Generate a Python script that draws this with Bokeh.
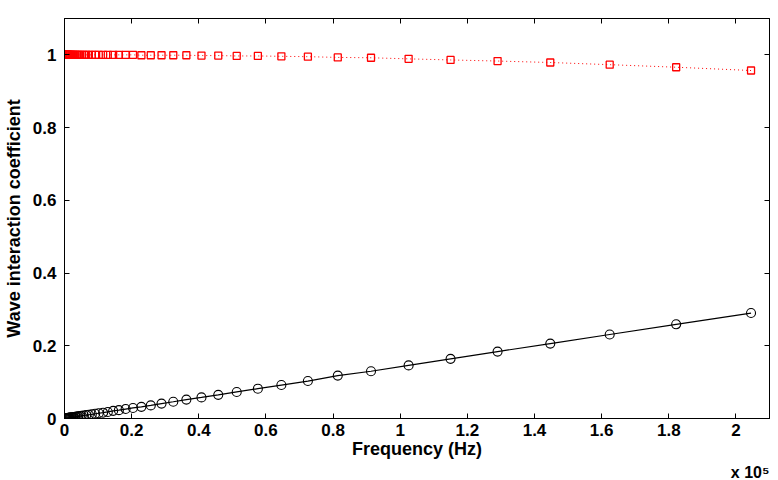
from bokeh.plotting import figure
from bokeh.models import Range1d, FixedTicker, LinearAxis, Title, ColumnDataSource
from bokeh.embed import file_html
from bokeh.resources import INLINE

# ---------------- data ----------------
freq_hz = [204500, 182200, 162400, 144700, 129000, 115000, 102500, 91300, 81400, 72500,
           64600, 57600, 51300, 45800, 40800, 36300, 32400, 28900, 25700, 22900,
           20400, 18200, 16200, 14500, 12900, 11500, 10200, 9130, 8140, 7250,
           6460, 5760, 5130, 4580, 4080, 3630, 3240, 2890, 2570, 2290,
           2040, 1820, 1620, 1450, 1290, 1150, 1020, 913, 814, 725,
           646, 576, 513, 458, 408, 363, 324, 289, 257, 229, 204]

coef_black = [0.290, 0.259, 0.231, 0.206, 0.184, 0.164, 0.146, 0.130, 0.118, 0.103,
              0.092, 0.082, 0.073, 0.065, 0.058, 0.052, 0.046, 0.041, 0.036, 0.032,
              0.029, 0.026, 0.023, 0.021, 0.018, 0.016, 0.0145, 0.013, 0.0115, 0.0103,
              0.0092, 0.0082, 0.0073, 0.0065, 0.0058, 0.0051, 0.0046, 0.0041, 0.0036, 0.0032,
              0.0029, 0.0026, 0.0023, 0.0021, 0.0018, 0.0016, 0.0014, 0.0013, 0.0012, 0.0010,
              0.0009, 0.0008, 0.0007, 0.0006, 0.0006, 0.0005, 0.0005, 0.0004, 0.0004, 0.0003, 0.0003]

coef_red = [0.957, 0.966, 0.973, 0.979, 0.983, 0.986, 0.989, 0.992, 0.993, 0.995,
            0.996, 0.997, 0.997, 0.998, 0.998, 0.999, 0.999, 0.999, 0.999, 0.999,
            1.0, 1.0, 1.0, 1.0, 1.0, 1.0, 1.0, 1.0, 1.0, 1.0,
            1.0, 1.0, 1.0, 1.0, 1.0, 1.0, 1.0, 1.0, 1.0, 1.0,
            1.0, 1.0, 1.0, 1.0, 1.0, 1.0, 1.0, 1.0, 1.0, 1.0,
            1.0, 1.0, 1.0, 1.0, 1.0, 1.0, 1.0, 1.0, 1.0, 1.0, 1.0]

x_ticks = [0, 20000, 40000, 60000, 80000, 100000, 120000, 140000, 160000, 180000, 200000]
x_tick_labels = ["0", "0.2", "0.4", "0.6", "0.8", "1", "1.2", "1.4", "1.6", "1.8", "2"]
y_ticks = [0, 0.2, 0.4, 0.6, 0.8, 1.0]
y_tick_labels = ["0", "0.2", "0.4", "0.6", "0.8", "1"]
x_multiplier = "x 10\u2075"

FONT = "Liberation Sans"

src = ColumnDataSource(dict(f=freq_hz, b=coef_black, r=coef_red))

p = figure(width=778, height=480, output_backend="svg", toolbar_location=None,
           x_range=Range1d(0, 210000), y_range=Range1d(0, 1.1),
           min_border_left=64, min_border_right=9, min_border_top=18, min_border_bottom=61)
p.grid.visible = False
p.outline_line_color = "black"
p.outline_line_width = 1
p.background_fill_color = "white"
p.border_fill_color = "white"

p.line("f", "r", source=src, line_color="red", line_width=1, line_dash="1 3")
p.scatter("f", "r", source=src, marker="square", size=7, line_color="red",
          fill_color=None, line_width=1.3)
p.line("f", "b", source=src, line_color="black", line_width=1.2)
p.scatter("f", "b", source=src, marker="circle", size=9, line_color="black",
          fill_color=None, line_width=1.1)

xt = FixedTicker(ticks=x_ticks)
yt = FixedTicker(ticks=y_ticks)


def style(ax, ticker, labels, ticks, show):
    ax.ticker = ticker
    ax.minor_tick_line_color = None
    ax.major_tick_in = 5
    ax.major_tick_out = 0
    ax.axis_line_color = "black"
    ax.axis_line_width = 1
    ax.major_tick_line_width = 1
    if show:
        ax.major_label_overrides = {t: l for t, l in zip(ticks, labels)}
        ax.major_label_text_font = FONT
        ax.major_label_text_font_style = "bold"
        ax.major_label_text_font_size = "17px"
        ax.major_label_text_color = "black"
        ax.axis_label_text_font = FONT
        ax.axis_label_text_font_style = "bold"
        ax.axis_label_text_font_size = "18px"
        ax.axis_label_text_color = "black"
    else:
        ax.major_label_overrides = {t: "" for t in ticks}
        ax.major_label_text_font_size = "1px"
        ax.major_label_standoff = 0


xa = p.xaxis[0]
ya = p.yaxis[0]
style(xa, xt, x_tick_labels, x_ticks, True)
style(ya, yt, y_tick_labels, y_ticks, True)
xa.axis_label = "Frequency (Hz)"
ya.axis_label = "Wave interaction coefficient"
xa.major_label_standoff = 5
ya.major_label_standoff = 8
xa.axis_label_standoff = 0
ya.axis_label_standoff = 6

xa2 = LinearAxis()
style(xa2, xt, x_tick_labels, x_ticks, False)
p.add_layout(xa2, "above")
ya2 = LinearAxis()
style(ya2, yt, y_tick_labels, y_ticks, False)
p.add_layout(ya2, "right")

t = Title(text=x_multiplier, align="right", text_font=FONT, text_font_style="bold",
          text_font_size="16px", text_color="black", standoff=0, offset=0)
p.add_layout(t, "below")

open("out.html", "w").write(file_html(p, INLINE))
